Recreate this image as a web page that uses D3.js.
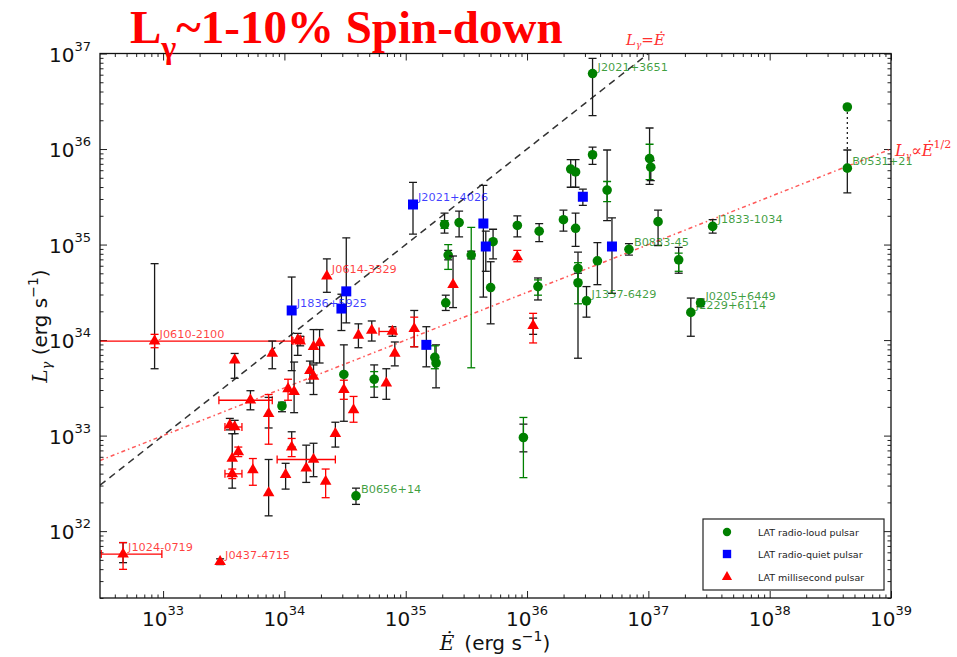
<!DOCTYPE html>
<html><head><meta charset="utf-8">
<script src="https://cdn.jsdelivr.net/npm/d3@7"></script>
<style>body{margin:0;background:#fff}</style>
</head><body><svg id="c" width="957" height="657"></svg>
<script>
// ---- tick labels (powers of ten) ----
const xTickExp = [33, 34, 35, 36, 37, 38, 39];
const yTickExp = [32, 33, 34, 35, 36, 37];

// ---- LAT radio-loud pulsars (log10 Edot, log10 Lgamma, errors in dex) ----
const rlNames = ["J2021+3651","B0531+21","","","","","","","B0833-45","J1833-1034","","","J0205+6449","J2229+6114","","","J1357-6429","","","","","","","","","","","","","","","","","","","","B0656+14"];
const rlLogE  = [36.54,38.64,36.36,36.40,36.54,36.66,37.01,37.02,36.84,37.53,37.08,37.25,37.43,37.35,36.42,36.42,36.49,36.58,36.40,36.30,36.10,35.92,36.09,35.72,35.70,35.54,35.44,35.32,35.35,35.33,35.25,35.24,35.97,33.98,34.49,34.74,34.59];
const rlLogL  = [36.79,35.80,35.79,35.76,35.94,35.57,35.90,35.81,34.95,35.19,35.24,34.84,34.39,34.29,34.75,34.60,34.41,34.83,35.17,35.26,35.14,35.20,34.56,35.03,34.55,34.89,35.23,35.21,34.89,34.39,33.76,33.82,32.98,33.31,33.64,33.59,32.37];
const rlErrLo = [0.44,0.26,0.19,0.16,0.10,0.32,0.27,0.14,0.06,0.07,0.25,0.14,0.04,0.25,0.15,0.79,0.17,0.25,0.19,0.12,0.11,0.12,0.14,0.18,0.38,0.04,0.15,0.09,0.05,0.08,0.26,0,0.15,0.06,0.49,0.19,0.09];
const rlErrHi = [0.16,0.19,0.10,0.13,0.08,0.42,0.32,0.07,0.06,0.07,0.12,0.13,0.04,0.15,0.17,0.10,0.15,0.19,0.16,0.10,0.08,0.10,0.09,0.13,0.27,0.04,0.12,0.12,0.05,0.08,0.19,0,0.14,0.04,0.31,0.15,0.08];
const rlSysLo = [0,0,0,0,0,0.12,0.22,0,0,0,0,0.12,0,0,0,0.22,0,0,0,0,0,0,0.09,0,0,1.18,0,0.04,0.15,0,0,0.12,0.42,0,0,0.08,0];
const rlSysHi = [0,0,0,0,0,0.09,0.15,0,0,0,0,0.07,0,0,0,0.21,0,0,0,0,0,0,0.07,0,0,0.29,0,0.04,0.11,0,0,0.12,0.21,0,0,0.08,0];
// Crab total (pulsar + nebula) value linked by dotted line
const crabTotalLogE = 38.64, crabTotalLogL = 36.44;

// ---- LAT radio-quiet pulsars ----
const rqNames = ["J1836+5925","","","J2021+4026","","","","",""];
const rqLogE  = [34.06,34.51,34.47,35.06,35.64,35.66,35.17,36.46,36.70];
const rqLogL  = [34.31,34.51,34.33,35.42,35.22,34.98,33.95,35.50,34.98];
const rqErrLo = [0.63,0.33,0.23,0.31,0.77,0.26,0.23,0.09,0.49];
const rqErrHi = [0.35,0.56,0.15,0.23,0.40,0.16,0.19,0.08,0.30];

// ---- LAT millisecond pulsars ----
const mspNames = ["J0610-2100","","","","","","","","","","","","","","","","","","","","","","","","","","","","","","","","","","J0614-3329","","","","J1024-0719","J0437-4715"];
const mspLogE  = [32.93,34.11,34.13,34.24,34.29,33.59,33.90,34.61,34.72,34.89,35.07,34.91,34.84,34.57,34.49,34.42,34.21,34.24,34.03,34.08,33.72,33.87,33.55,33.59,33.57,33.62,33.57,33.74,33.87,34.01,34.06,34.18,34.24,34.34,34.35,35.39,35.92,36.05,32.67,33.47];
const mspLogL  = [33.99,34.00,33.99,33.93,33.97,33.79,33.86,34.05,34.10,34.09,34.12,33.86,33.55,33.27,33.48,33.02,33.68,33.62,33.49,33.46,33.37,33.23,33.11,33.09,32.76,32.83,32.60,32.64,32.40,32.59,32.88,32.66,32.75,32.52,34.67,34.58,34.87,34.15,31.76,31.68];
const mspErrLo = [0.29,0.16,0.05,0.17,0.21,0.19,0.16,0.13,0.11,0.05,0.19,0.13,0.17,0,0,0.14,0.13,0.19,0,0.22,0.10,0.15,0.05,0.07,0.31,0,0,0,0.24,0.15,0,0.15,0.18,0,0.17,0.24,0,0.09,0.09,0.03];
const mspErrHi = [0.81,0.07,0.05,0.18,0.14,0.07,0.13,0.12,0.10,0.05,0.19,0.12,0.15,0,0,0.12,0.10,0.12,0,0.31,0.10,0.17,0.07,0.07,0.26,0,0,0,0.35,0.12,0.16,0.24,0.17,0,0.18,0.30,0,0.08,0.12,0.03];
const mspSysLo = [0.07,0,0,0,0,0,0,0,0,0,0.19,0,0,0.13,0.10,0,0,0,0.12,0,0,0.32,0,0,0,0.05,0.05,0.16,0,0,0.10,0,0,0.17,0,0,0.05,0.18,0.16,0];
const mspSysHi = [0.07,0,0,0,0,0,0,0,0,0,0.12,0,0,0.14,0.10,0,0,0,0.10,0,0,0.20,0,0,0,0.05,0.05,0.12,0,0,0.09,0,0,0.13,0,0,0.07,0.13,0.12,0];
const mspXLo = [32.0,34.06,null,null,null,null,null,null,null,34.78,null,null,null,null,null,null,null,null,null,null,33.46,null,null,33.51,null,null,33.51,null,null,null,null,null,33.94,null,null,null,null,null,32.49,null];
const mspXHi = [34.07,34.16,null,null,null,null,null,null,null,34.92,null,null,null,null,null,null,null,null,null,null,33.90,null,null,33.65,null,null,33.65,null,null,null,null,null,34.42,null,null,null,null,null,32.99,null];

// reference relations: L = Edot ; L = (1e33 Edot)^(1/2)
const sqrtLawLogK = 16.5;

const legendLabels = ["LAT radio-loud pulsar","LAT radio-quiet pulsar","LAT millisecond pulsar"];

// ---------------------------------------------------------------
const svg = d3.select("#c");
const L = 100, R = 891, T = 53.5, B = 598;
const p10 = v => Math.pow(10, v);
const x = d3.scaleLog().domain([p10(32.48), 1e39]).range([L, R]);
const y = d3.scaleLog().domain([p10(31.30), 1e37]).range([B, T]);

svg.append("defs").append("clipPath").attr("id","clip")
  .append("rect").attr("x",L).attr("y",T).attr("width",R-L).attr("height",B-T);

// minor ticks
function minors(lo, hi){ const a=[]; for(let e=lo;e<=hi;e++) for(let k=2;k<=9;k++) a.push(k*p10(e)); return a; }
const [xd0,xd1]=x.domain(), [yd0,yd1]=y.domain();
const xMinor = minors(32,38).filter(v=>v>=xd0&&v<=xd1);
const yMinor = minors(31,36).filter(v=>v>=yd0&&v<=yd1);
const xMajor = xTickExp.map(p10), yMajor = yTickExp.map(p10);

function tickAxis(gen, scale, vals, size, tr){
  const g = svg.append("g").attr("transform", tr)
    .call(gen(scale).tickValues(vals).tickSize(-size).tickFormat(""));
  g.select(".domain").remove();
  g.selectAll("line").attr("stroke","#222").attr("stroke-width",1);
}
tickAxis(d3.axisBottom, x, xMajor, 7, `translate(0,${B})`);
tickAxis(d3.axisBottom, x, xMinor, 3.5, `translate(0,${B})`);
tickAxis(d3.axisTop, x, xMajor, 7, `translate(0,${T})`);
tickAxis(d3.axisTop, x, xMinor, 3.5, `translate(0,${T})`);
tickAxis(d3.axisLeft, y, yMajor, 7, `translate(${L},0)`);
tickAxis(d3.axisLeft, y, yMinor, 3.5, `translate(${L},0)`);
tickAxis(d3.axisRight, y, yMajor, 7, `translate(${R},0)`);
tickAxis(d3.axisRight, y, yMinor, 3.5, `translate(${R},0)`);

// tick labels
const font = "DejaVu Sans, sans-serif";
xTickExp.forEach(e=>{
  const t = svg.append("text").attr("x", x(p10(e))).attr("y", 626)
    .attr("text-anchor","middle").attr("font-family",font).attr("font-size",20).attr("fill","#111");
  t.append("tspan").text("10");
  t.append("tspan").attr("dy",-11).attr("font-size",13).text(e);
});
yTickExp.forEach(e=>{
  const t = svg.append("text").attr("x", 91).attr("y", y(p10(e))+8)
    .attr("text-anchor","end").attr("font-family",font).attr("font-size",20).attr("fill","#111");
  t.append("tspan").text("10");
  t.append("tspan").attr("dy",-11).attr("font-size",13).text(e);
});

// axis labels
{
  const t = svg.append("text").attr("x", 495).attr("y", 650).attr("text-anchor","middle")
    .attr("font-family",font).attr("font-size",20).attr("fill","#111");
  t.append("tspan").attr("font-family","DejaVu Serif, serif").attr("font-style","italic").text("\u0116");
  t.append("tspan").text("\u2002(erg s");
  t.append("tspan").attr("dy",-9).attr("font-size",14).text("\u22121");
  t.append("tspan").attr("dy",9).text(")");
}
{
  const t = svg.append("text").attr("transform","translate(47,326) rotate(-90)").attr("text-anchor","middle")
    .attr("font-family",font).attr("font-size",20).attr("fill","#111");
  t.append("tspan").attr("font-family","DejaVu Serif, serif").attr("font-style","italic").text("L");
  t.append("tspan").attr("font-family","DejaVu Serif, serif").attr("font-style","italic").attr("font-size",13).attr("dy",4).text("\u03b3");
  t.append("tspan").attr("dy",-4).text(" (erg s");
  t.append("tspan").attr("dy",-9).attr("font-size",14).text("\u22121");
  t.append("tspan").attr("dy",9).text(")");
}

const plot = svg.append("g").attr("clip-path","url(#clip)");

// reference lines
const line = d3.line().x(d=>x(p10(d[0]))).y(d=>y(p10(d[1])));
plot.append("path").attr("d", line([[32.48,32.48],[37.2,37.2]]))
  .attr("fill","none").attr("stroke","#333").attr("stroke-width",1.5).attr("stroke-dasharray","7,5");
plot.append("path").attr("d", line([[32.48,sqrtLawLogK+32.48/2],[39,sqrtLawLogK+39/2]]))
  .attr("fill","none").attr("stroke","#ff3030").attr("stroke-opacity",0.8).attr("stroke-width",1.5).attr("stroke-dasharray","4,3,1.5,3");

// Crab dotted link
plot.append("line").attr("x1",x(p10(crabTotalLogE))).attr("x2",x(p10(crabTotalLogE)))
  .attr("y1",y(p10(crabTotalLogL))).attr("y2",y(p10(rlLogL[1]+rlErrHi[1])))
  .attr("stroke","#222").attr("stroke-width",1.3).attr("stroke-dasharray","2,3");

function vErr(g, E, Lv, lo, hi, color){
  if(!(lo>0||hi>0)) return;
  const cx = x(p10(E)), y1 = y(p10(Lv-lo)), y2 = y(p10(Lv+hi));
  g.append("line").attr("x1",cx).attr("x2",cx).attr("y1",y1).attr("y2",y2).attr("stroke",color).attr("stroke-width",1.3);
  [y1,y2].forEach(yy=>g.append("line").attr("x1",cx-4).attr("x2",cx+4).attr("y1",yy).attr("y2",yy).attr("stroke",color).attr("stroke-width",1.3));
}
function hErr(g, xlo, xhi, Lv, color){
  if(xlo==null) return;
  const x1 = x(p10(xlo)), x2 = x(p10(xhi)), cy = y(p10(Lv));
  g.append("line").attr("x1",x1).attr("x2",x2).attr("y1",cy).attr("y2",cy).attr("stroke",color).attr("stroke-width",1.3);
  [x1,x2].forEach(xx=>g.append("line").attr("x1",xx).attr("x2",xx).attr("y1",cy-4).attr("y2",cy+4).attr("stroke",color).attr("stroke-width",1.3));
}

const GREEN = "#008000", BLUE = "#0000ff", RED = "#ff0000", BLK = "#1a1a1a";
const triPath = d3.symbol().type(d3.symbolTriangle).size(58)();
const sqPath = d3.symbol().type(d3.symbolSquare).size(100)();

// radio-loud
{
  const g = plot.append("g");
  rlLogE.forEach((E,i)=>{ vErr(g,E,rlLogL[i],rlErrLo[i],rlErrHi[i],BLK); vErr(g,E,rlLogL[i],rlSysLo[i],rlSysHi[i],GREEN); });
  g.selectAll("circle.rl").data(rlLogE).join("circle").attr("class","rl")
    .attr("cx",d=>x(p10(d))).attr("cy",(d,i)=>y(p10(rlLogL[i]))).attr("r",4.8).attr("fill",GREEN);
  g.append("circle").attr("cx",x(p10(crabTotalLogE))).attr("cy",y(p10(crabTotalLogL))).attr("r",4.8).attr("fill",GREEN);
}
// radio-quiet
{
  const g = plot.append("g");
  rqLogE.forEach((E,i)=>vErr(g,E,rqLogL[i],rqErrLo[i],rqErrHi[i],BLK));
  g.selectAll("path.rq").data(rqLogE).join("path").attr("class","rq").attr("d",sqPath)
    .attr("transform",(d,i)=>`translate(${x(p10(d))},${y(p10(rqLogL[i]))})`).attr("fill",BLUE);
}
// millisecond
{
  const g = plot.append("g");
  mspLogE.forEach((E,i)=>{
    vErr(g,E,mspLogL[i],mspErrLo[i],mspErrHi[i],BLK);
    vErr(g,E,mspLogL[i],mspSysLo[i],mspSysHi[i],RED);
    hErr(g,mspXLo[i],mspXHi[i],mspLogL[i],RED);
  });
  g.selectAll("path.msp").data(mspLogE).join("path").attr("class","msp").attr("d",triPath)
    .attr("transform",(d,i)=>`translate(${x(p10(d))},${y(p10(mspLogL[i]))})`).attr("fill",RED);
}

// point labels
function labels(names, E, Lv, color){
  names.forEach((n,i)=>{ if(!n) return;
    svg.append("text").attr("x",x(p10(E[i]))+5).attr("y",y(p10(Lv[i]))-3)
      .attr("font-family",font).attr("font-size",11.3).attr("fill",color).attr("fill-opacity",0.75).text(n);
  });
}
labels(rlNames, rlLogE, rlLogL, GREEN);
labels(rqNames, rqLogE, rqLogL, BLUE);
labels(mspNames, mspLogE, mspLogL, RED);

// frame
svg.append("rect").attr("x",L).attr("y",T).attr("width",R-L).attr("height",B-T)
  .attr("fill","none").attr("stroke","#111").attr("stroke-width",1.3);

// legend
{
  const g = svg.append("g");
  g.append("rect").attr("x",703).attr("y",519).attr("width",181).attr("height",71)
    .attr("fill","#fff").attr("stroke","#222").attr("stroke-width",1.2);
  const rows = [532, 554, 577];
  g.append("circle").attr("cx",727).attr("cy",rows[0]).attr("r",4.2).attr("fill",GREEN);
  g.append("path").attr("d",d3.symbol().type(d3.symbolSquare).size(70)()).attr("transform",`translate(727,${rows[1]})`).attr("fill",BLUE);
  g.append("path").attr("d",d3.symbol().type(d3.symbolTriangle).size(45)()).attr("transform",`translate(727,${rows[2]})`).attr("fill",RED);
  legendLabels.forEach((t,i)=>g.append("text").attr("x",758).attr("y",rows[i]+3.5)
    .attr("font-family",font).attr("font-size",9.5).attr("fill","#222").text(t));
}

// relation labels
{
  const s = "DejaVu Serif, serif";
  const t = svg.append("text").attr("x",626).attr("y",45).attr("font-family",s).attr("font-style","italic")
    .attr("font-size",15).attr("fill","#ff3030");
  t.append("tspan").text("L");
  t.append("tspan").attr("font-size",9).attr("dy",3).text("\u03b3");
  t.append("tspan").attr("dy",-3).attr("font-style","normal").text("=");
  t.append("tspan").text("\u0116");
  const u = svg.append("text").attr("x",895).attr("y",156).attr("font-family",s).attr("font-style","italic")
    .attr("font-size",16).attr("fill","#ff3030");
  u.append("tspan").text("L");
  u.append("tspan").attr("font-size",9).attr("dy",3).text("\u03b3");
  u.append("tspan").attr("dy",-3).attr("font-style","normal").text("\u221d");
  u.append("tspan").text("\u0116");
  u.append("tspan").attr("font-size",11).attr("dy",-8).attr("font-style","normal").text("1/2");
}

// title
{
  const t = svg.append("text").attr("x",130).attr("y",43).attr("font-family","Liberation Serif, Times New Roman, serif")
    .attr("font-weight","bold").attr("font-size",47).attr("fill","#ff0000");
  t.append("tspan").text("L");
  t.append("tspan").attr("font-size",32).attr("dy",15).text("\u03b3");
  t.append("tspan").attr("dy",-15).text("~1-10% Spin-down");
}
</script></body></html>
